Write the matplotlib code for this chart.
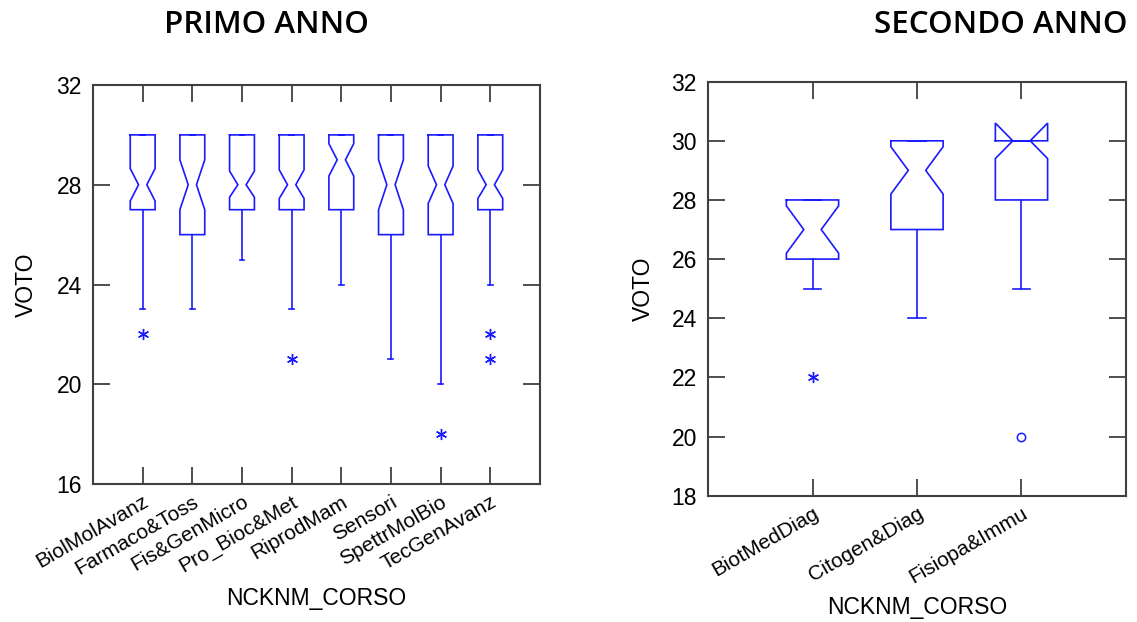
import matplotlib
matplotlib.use("Agg")
import matplotlib.pyplot as plt

plt.rcParams['font.family'] = ['Liberation Sans', 'DejaVu Sans']

# PRIMO ANNO
corsi1 = ['BiolMolAvanz', 'Farmaco&Toss', 'Fis&GenMicro', 'Pro_Bioc&Met',
          'RiprodMam', 'Sensori', 'SpettrMolBio', 'TecGenAvanz']
q1_1 = [27, 26, 27, 27, 27, 26, 26, 27]
q3_1 = [30, 30, 30, 30, 30, 30, 30, 30]
med_1 = [28, 28, 28, 28, 29, 28, 28, 28]
cilo_1 = [27.35, 27.0, 27.5, 27.45, 28.35, 27.0, 27.25, 27.45]
cihi_1 = [28.65, 29.0, 28.55, 28.6, 29.65, 29.0, 28.75, 28.6]
wlo_1 = [23, 23, 25, 23, 24, 21, 20, 24]
whi_1 = [30, 30, 30, 30, 30, 30, 30, 30]
out_star_1 = [[22], [], [], [21], [], [], [18], [22, 21]]
out_circ_1 = [[], [], [], [], [], [], [], []]

# SECONDO ANNO
corsi2 = ['BiotMedDiag', 'Citogen&Diag', 'Fisiopa&Immu']
q1_2 = [26, 27, 28]
q3_2 = [28, 30, 30]
med_2 = [27, 29, 30]
cilo_2 = [26.2, 28.2, 29.4]
cihi_2 = [27.8, 29.8, 30.6]
wlo_2 = [25, 24, 25]
whi_2 = [28, 30, 30]
out_star_2 = [[22], [], []]
out_circ_2 = [[], [], [20]]

BLUE = '#1a1aff'
SPINE = '#404040'


def notched_boxes(ax, q1, q3, med, cilo, cihi, wlo, whi, stars, circs, cap):
    w = 0.5
    n = w / 3
    for i in range(len(q1)):
        p = i + 1
        l, r = p - w / 2, p + w / 2
        xs = [l, r, r, r - n, r, r, l, l, l + n, l, l]
        ys = [q3[i], q3[i], cihi[i], med[i], cilo[i], q1[i], q1[i],
              cilo[i], med[i], cihi[i], q3[i]]
        ax.plot(xs, ys, color=BLUE, lw=1.2, solid_joinstyle='miter')
        ax.plot([p, p], [q1[i], wlo[i]], color=BLUE, lw=1.2)
        ax.plot([p - cap, p + cap], [wlo[i], wlo[i]], color=BLUE, lw=1.2)
        ax.plot([p, p], [q3[i], whi[i]], color=BLUE, lw=1.2)
        ax.plot([p - cap, p + cap], [whi[i], whi[i]], color=BLUE, lw=1.4)
        if stars[i]:
            ax.plot([p] * len(stars[i]), stars[i], ls='none',
                    marker=(6, 2, 0), ms=8, mew=1.0, color=BLUE)
        if circs[i]:
            ax.plot([p] * len(circs[i]), circs[i], ls='none', marker='o',
                    ms=6, mfc='none', mew=1.1, color=BLUE)


def style(ax, labels, ylim, yticks):
    ax.set_xlim(0, len(labels) + 1)
    ax.set_ylim(*ylim)
    ax.set_yticks(yticks)
    ax.set_xticks(range(1, len(labels) + 1))
    ax.set_xticklabels(labels, rotation=30, ha='right', rotation_mode='anchor',
                       fontsize=15)
    ax.tick_params(axis='both', direction='in', length=12, width=1.3,
                   color=SPINE, top=True, right=True)
    ax.tick_params(axis='y', labelsize=16.5, pad=8)
    ax.tick_params(axis='x', pad=6)
    for s in ax.spines.values():
        s.set_color(SPINE)
        s.set_linewidth(1.5)
    ax.set_ylabel('VOTO', fontsize=16.5)
    ax.set_xlabel('NCKNM_CORSO', fontsize=16.5)


fig = plt.figure(figsize=(11.37, 6.22), dpi=100)

ax1 = fig.add_axes([0.0818, 0.2219, 0.3931, 0.6414])
notched_boxes(ax1, q1_1, q3_1, med_1, cilo_1, cihi_1, wlo_1, whi_1,
              out_star_1, out_circ_1, 0.05)
style(ax1, corsi1, (16, 32), [16, 20, 24, 28, 32])
ax1.yaxis.labelpad = 13
ax1.xaxis.labelpad = 6

ax2 = fig.add_axes([0.6227, 0.2031, 0.3676, 0.6656])
notched_boxes(ax2, q1_2, q3_2, med_2, cilo_2, cihi_2, wlo_2, whi_2,
              out_star_2, out_circ_2, 0.085)
style(ax2, corsi2, (18, 32), [18, 20, 22, 24, 26, 28, 30, 32])
ax2.yaxis.labelpad = 12
ax2.xaxis.labelpad = 6

title_font = dict(family=['Open Sans', 'DejaVu Sans'], weight='semibold', fontsize=22.5)
fig.text(266 / 1137, 1 - 25 / 622, 'PRIMO ANNO', ha='center', va='center', **title_font)
fig.text(1001 / 1137, 1 - 25 / 622, 'SECONDO ANNO', ha='center', va='center', **title_font)

fig.savefig('out.png', dpi=100)
